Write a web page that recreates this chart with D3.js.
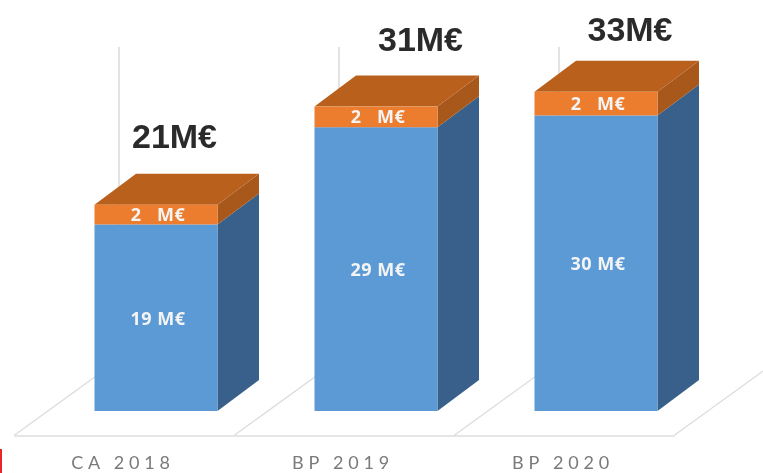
<!DOCTYPE html>
<html><head><meta charset="utf-8">
<script src="https://cdn.jsdelivr.net/npm/d3@7"></script>
<style>html,body{margin:0;background:#fff}svg{display:block}</style></head>
<body><svg id="c" width="763" height="473"></svg>
<script>
const categories = ["CA 2018","BP 2019","BP 2020"];
const blueValues = [19, 28.9, 30.1];
const orangeValues = [2.0, 2.1, 2.4];
const blueLabels = ["19 M€","29 M€","30 M€"];
const orangeLabels = ["2\u00a0\u00a0\u00a0M€","2\u00a0\u00a0\u00a0M€","2\u00a0\u00a0\u00a0M€"];
const totalLabels = ["21M€","31M€","33M€"];

const svg = d3.select("#c");
const baseY = 411, floorY = 435.5, dx = 41.5, dy = 31, barW = 123, barOffset = 80.5;
const x = d3.scaleBand().domain(categories).range([14,674]);
const y = d3.scaleLinear().domain([0,33]).range([baseY, baseY-33*9.82]);
const soft = svg.append("defs").append("filter").attr("id","soft");
soft.append("feGaussianBlur").attr("stdDeviation",0.5);
const g = svg.append("g").attr("filter","url(#soft)");
const grid = "#dcdcdc";

// floor and back-wall lines
const starts = categories.map(c=>x(c)).concat([x.range()[1]]);
starts.forEach(s=>{
  g.append("line").attr("x1",s).attr("y1",floorY).attr("x2",s+105).attr("y2",floorY-76)
    .attr("stroke",grid).attr("stroke-width",1.3);
});
starts.slice(0,3).forEach(s=>{
  g.append("line").attr("x1",s+105).attr("y1",floorY-76).attr("x2",s+105).attr("y2",47)
    .attr("stroke",grid).attr("stroke-width",1.6);
});

// axis: the domain is the front edge of the floor
const axis = d3.axisBottom(x).tickSize(0).tickPadding(20.5).tickSizeOuter(0);
const ax = g.append("g").attr("transform",`translate(0,${floorY})`).call(axis);
ax.select(".domain").attr("stroke",grid).attr("stroke-width",1.6);
ax.selectAll("text").attr("dx",-1).attr("fill","#7a7a7a").attr("font-family","Lato, sans-serif")
  .attr("font-size",18).attr("letter-spacing","4.8px");

function box(gr, x0, yB, yT, front, side, top){
  const pts = a=>a.map(p=>p.join(",")).join(" ");
  const x1 = x0+barW;
  gr.append("polygon").attr("points",pts([[x1,yB],[x1+dx,yB-dy],[x1+dx,yT-dy],[x1,yT]])).attr("fill",side);
  if(top) gr.append("polygon").attr("points",pts([[x0,yT],[x0+dx,yT-dy],[x1+dx,yT-dy],[x1,yT]])).attr("fill",top);
  gr.append("rect").attr("x",x0).attr("y",yT).attr("width",barW).attr("height",yB-yT).attr("fill",front);
}
const totalNudge = [[18.5,26],[44.5,25],[34,20]];
categories.forEach((c,i)=>{
  const x0 = x(c)+barOffset, cx = x0+barW/2;
  const b = blueValues[i], o = orangeValues[i];
  box(g, x0, y(0), y(b), "#5b9ad6", "#37618a", null);
  box(g, x0, y(b), y(b+o), "#ed7d2f", "#a9581f", "#b8601f");
  g.append("text").attr("x",cx+2).attr("y",(y(0)+y(b))/2+7).attr("text-anchor","middle")
    .attr("fill","#f4f4f4").attr("font-family","Open Sans, sans-serif").attr("font-weight",700)
    .attr("letter-spacing","0.5px").attr("font-size",18).text(blueLabels[i]);
  g.append("text").attr("x",cx+2).attr("y",(y(b)+y(b+o))/2+6.5).attr("text-anchor","middle")
    .attr("fill","#f4f4f4").attr("font-family","Open Sans, sans-serif").attr("font-weight",700)
    .attr("letter-spacing","0.5px").attr("font-size",18).text(orangeLabels[i]);
  g.append("text").attr("x",cx+totalNudge[i][0]).attr("y",y(b+o)-dy-totalNudge[i][1]).attr("text-anchor","middle")
    .attr("fill","#2b2b2b").attr("font-family","Liberation Sans, Arial, sans-serif").attr("font-weight",700)
    .attr("font-size",34).text(totalLabels[i]);
});
svg.append("rect").attr("x",0).attr("y",449).attr("width",2).attr("height",24).attr("fill","#e8262a");
</script></body></html>
